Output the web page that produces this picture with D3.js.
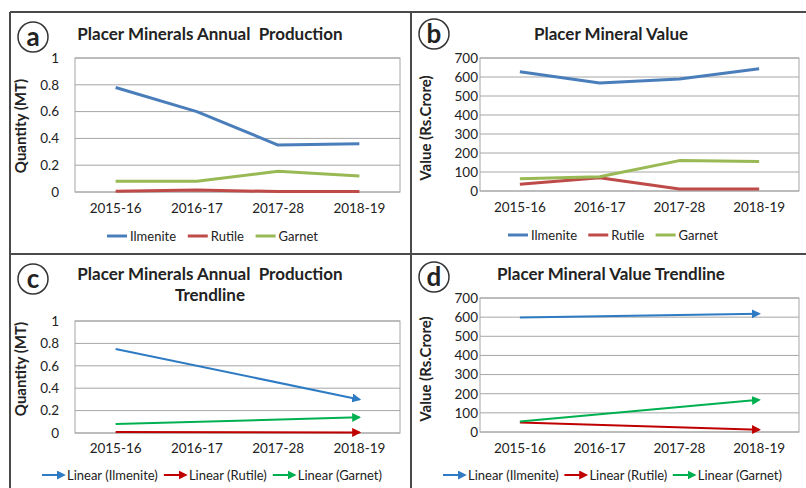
<!DOCTYPE html>
<html lang="en">
<head>
<meta charset="UTF-8">
<title>Placer Minerals</title>
<style>
    body { margin: 0; background: #fff; font-family: Lato, "Open Sans", Arial, sans-serif; }
    svg text { fill: #222; white-space: pre; }
</style>
</head>
<body>
<svg id="chart" width="806" height="488"></svg>
<script src="https://d3js.org/d3.v7.min.js"></script>
<script>
// data
const years = ["2015-16", "2016-17", "2017-28", "2018-19"];
const minerals = ["Ilmenite", "Rutile", "Garnet"];

const prodIlmenite = [0.78, 0.60, 0.35, 0.36];
const prodRutile = [0.005, 0.015, 0.003, 0.003];
const prodGarnet = [0.08, 0.08, 0.155, 0.12];

const valIlmenite = [628, 568, 590, 643];
const valRutile = [35, 70, 10, 10];
const valGarnet = [65, 75, 160, 155];

// trendline start (2015-16) and end (2018-19)
const prodTrendIlmenite = [0.75, 0.30];
const prodTrendRutile = [0.01, 0.005];
const prodTrendGarnet = [0.08, 0.14];

const valTrendIlmenite = [598, 618];
const valTrendRutile = [50, 12];
const valTrendGarnet = [55, 168];

const prodTicks = [0, 0.2, 0.4, 0.6, 0.8, 1];
const valTicks = [0, 100, 200, 300, 400, 500, 600, 700];

const lineColors = ["#4a7ebb", "#be4b48", "#98b954"];
const trendColors = ["#2e7bc4", "#c00000", "#00b050"];

const FONT = "Lato, 'Open Sans', Arial, sans-serif";
const svg = d3.select("#chart");

// arrow markers for trendlines
const defs = svg.append("defs");
trendColors.forEach((c, i) => {
    defs.append("marker")
        .attr("id", "arr" + i)
        .attr("viewBox", "0 0 10 10")
        .attr("refX", 8).attr("refY", 5)
        .attr("markerWidth", 4.5).attr("markerHeight", 4.5)
        .attr("orient", "auto")
        .append("path").attr("d", "M0,0L10,5L0,10z").attr("fill", c);
});

// panel frame
const frame = svg.append("g").attr("stroke", "#4a4a4a").attr("stroke-width", 2);
frame.append("line").attr("x1", 10).attr("x2", 806).attr("y1", 12).attr("y2", 12);
frame.append("line").attr("x1", 10).attr("x2", 10).attr("y1", 12).attr("y2", 488);
frame.append("line").attr("x1", 411).attr("x2", 411).attr("y1", 12).attr("y2", 488);
frame.append("line").attr("x1", 10).attr("x2", 806).attr("y1", 254).attr("y2", 254);

function drawPanel(p) {
    const g = svg.append("g");
    const x = d3.scaleBand().domain(years).range([p.x0, p.x1]);
    const y = d3.scaleLinear().domain([0, p.ticks[p.ticks.length - 1]]).range([p.y1, p.y0]);
    const cx = d => x(d) + x.bandwidth() / 2;

    // letter badge
    g.append("circle").attr("cx", p.badge[0]).attr("cy", p.badge[1]).attr("r", 15)
        .attr("fill", "none").attr("stroke", "#333").attr("stroke-width", 1.5);
    g.append("text").attr("x", p.badge[0]).attr("y", p.badge[1] + 8.5)
        .attr("text-anchor", "middle").attr("font-size", 26).attr("font-weight", "bold")
        .text(p.letter);

    // title
    p.title.forEach((t, i) => {
        g.append("text").attr("x", p.titleX).attr("y", p.titleY + i * 21)
            .attr("text-anchor", "middle").attr("font-size", 17).attr("font-weight", "bold")
            .text(t);
    });

    // grid
    g.selectAll(".grid").data(p.ticks).join("line")
        .attr("x1", p.x0).attr("x2", p.x1)
        .attr("y1", d => y(d)).attr("y2", d => y(d))
        .attr("stroke", "#a6a6a6").attr("stroke-width", 1);
    g.append("rect").attr("x", p.x0).attr("y", p.y0)
        .attr("width", p.x1 - p.x0).attr("height", p.y1 - p.y0)
        .attr("fill", "none").attr("stroke", "#a6a6a6");

    // y axis labels
    const yAxis = d3.axisLeft(y).tickValues(p.ticks).tickSize(0).tickPadding(0).tickFormat(d3.format("~g"));
    const ya = g.append("g").attr("transform", `translate(${p.yLabelX},0)`).call(yAxis);
    ya.select(".domain").remove();
    ya.attr("font-size", 13.5).attr("font-family", FONT);
    ya.selectAll("text").attr("fill", "#222");

    // x axis labels
    const xAxis = d3.axisBottom(x).tickSize(0).tickPadding(0);
    const xa = g.append("g").attr("transform", `translate(0,${p.xLabelY})`).call(xAxis);
    xa.select(".domain").remove();
    xa.attr("font-size", 13.5).attr("font-family", FONT);
    xa.selectAll("text").attr("fill", "#222");

    // y title
    g.append("text")
        .attr("transform", `translate(${p.yTitle[0]},${p.yTitle[1]}) rotate(-90)`)
        .attr("text-anchor", "middle").attr("font-size", 15).attr("font-weight", "bold")
        .text(p.yTitleText);

    // series
    if (p.series) {
        const line = d3.line().x((d, i) => cx(years[i])).y(d => y(d));
        p.series.forEach((s, i) => {
            g.append("path").datum(s).attr("d", line)
                .attr("fill", "none").attr("stroke", lineColors[i]).attr("stroke-width", 3)
                .attr("stroke-linejoin", "round");
        });
    }
    if (p.trends) {
        const xs = [years[0], years[years.length - 1]];
        const line = d3.line().x((d, i) => cx(xs[i])).y(d => y(d));
        p.trends.forEach((s, i) => {
            g.append("path").datum(s).attr("d", line)
                .attr("fill", "none").attr("stroke", trendColors[i]).attr("stroke-width", 2)
                .attr("marker-end", `url(#arr${i})`);
        });
    }

    // legend: items spread across the span [start, end]
    const lg = g.append("g");
    const symW = p.trends ? 22 : 20;
    const items = minerals.map((m, i) => {
        const it = lg.append("g");
        it.append("line").attr("x1", 0).attr("x2", symW)
            .attr("y1", p.legendY).attr("y2", p.legendY)
            .attr("stroke", p.trends ? trendColors[i] : lineColors[i])
            .attr("stroke-width", p.trends ? 2 : 3)
            .attr("marker-end", p.trends ? `url(#arr${i})` : null);
        const t = it.append("text").attr("x", symW + 3).attr("y", p.legendY + 5)
            .attr("font-size", 13).text(p.trends ? `Linear (${m})` : m);
        return { it, w: symW + 3 + t.node().getComputedTextLength() };
    });
    const total = d3.sum(items, d => d.w);
    const gap = (p.legendSpan[1] - p.legendSpan[0] - total) / (items.length - 1);
    let lx = p.legendSpan[0];
    items.forEach(d => {
        d.it.attr("transform", `translate(${lx},0)`);
        lx += d.w + gap;
    });
}

drawPanel({
    letter: "a", badge: [33, 37],
    title: ["Placer Minerals Annual  Production"], titleX: 210, titleY: 40,
    x0: 75, x1: 400, y0: 58, y1: 192, ticks: prodTicks,
    yLabelX: 59, xLabelY: 203,
    yTitle: [26, 126], yTitleText: "Quantity (MT)",
    series: [prodIlmenite, prodRutile, prodGarnet],
    legendSpan: [107, 318], legendY: 236
});

drawPanel({
    letter: "b", badge: [434, 34],
    title: ["Placer Mineral Value"], titleX: 611, titleY: 40,
    x0: 480, x1: 799, y0: 58, y1: 191, ticks: valTicks,
    yLabelX: 478, xLabelY: 202,
    yTitle: [431, 128], yTitleText: "Value (Rs.Crore)",
    series: [valIlmenite, valRutile, valGarnet],
    legendSpan: [508, 718], legendY: 235
});

drawPanel({
    letter: "c", badge: [33, 279],
    title: ["Placer Minerals Annual  Production", "Trendline"], titleX: 210, titleY: 280,
    x0: 75, x1: 400, y0: 321, y1: 433, ticks: prodTicks,
    yLabelX: 59, xLabelY: 443,
    yTitle: [26, 369], yTitleText: "Quantity (MT)",
    trends: [prodTrendIlmenite, prodTrendRutile, prodTrendGarnet],
    legendSpan: [42, 382], legendY: 475
});

drawPanel({
    letter: "d", badge: [434, 277],
    title: ["Placer Mineral Value Trendline"], titleX: 611, titleY: 280,
    x0: 480, x1: 799, y0: 298, y1: 432, ticks: valTicks,
    yLabelX: 478, xLabelY: 443,
    yTitle: [431, 369], yTitleText: "Value (Rs.Crore)",
    trends: [valTrendIlmenite, valTrendRutile, valTrendGarnet],
    legendSpan: [443, 782], legendY: 475
});
</script>
</body>
</html>
